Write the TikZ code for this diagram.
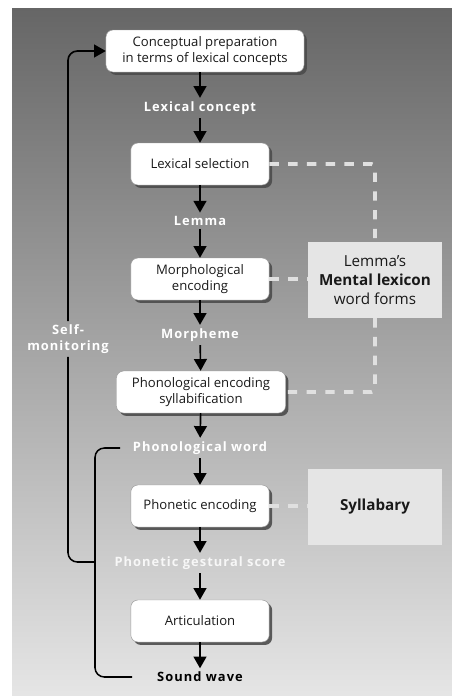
\documentclass[tikz,border=0pt]{standalone}
\usepackage{fontspec}
\setmainfont{Open Sans}
\newfontfamily\flowfont{Open Sans}[LetterSpace=8.0]
\usetikzlibrary{arrows.meta,shadows,positioning}

\begin{document}
\begin{tikzpicture}[x=0.03cm,y=-0.03cm,
  stage/.style={draw=black!40, fill=white, rounded corners=6pt, align=center,
    text=black!90, font=\fontsize{11.2}{13.5}\selectfont,
    minimum width=4.15cm, minimum height=1.26cm,
    drop shadow={shadow xshift=2.5pt, shadow yshift=-2.5pt, fill=black!70, opacity=0.9}},
  flow/.style={text=white, font=\flowfont\bfseries\fontsize{11}{13}\selectfont, inner sep=3pt},
  store/.style={fill=black!10, minimum width=4.02cm, minimum height=2.28cm,
    align=center, text=black!90, font=\fontsize{13}{16.5}\selectfont},
  arr/.style={-{Triangle[width=11pt,length=10pt]}, line width=1.4pt},
  link/.style={draw=black!12, line width=3.2pt, dash pattern=on 8pt off 8pt, rounded corners=3pt},
  fb/.style={line width=1.3pt, rounded corners=8pt}]

\useasboundingbox (0,0) rectangle (452,696);
\shade [top color=black!60, bottom color=black!10] (12,8) rectangle (452,696);

% main chain
\node [stage, minimum width=5.94cm] (concept) at (205,51) {Conceptual preparation\\ in terms of lexical concepts};
\node [flow] (lexcon) at (200,108) {Lexical concept};
\node [stage] (lexsel) at (200,164) {Lexical selection};
\node [flow] (lemma) at (200,221) {Lemma};
\node [stage] (morph) at (200,279) {Morphological\\ encoding};
\node [flow] (morpheme) at (200,335) {Morpheme};
\node [stage, minimum width=5.07cm] (phonenc) at (201,392) {Phonological encoding\\ syllabification};
\node [flow] (phonword) at (200,448) {Phonological word};
\node [stage] (phonet) at (200,506) {Phonetic encoding};
\node [flow, text=black!3] (gestural) at (200,563) {Phonetic gestural score};
\node [stage] (artic) at (200,621) {Articulation};
\node [flow, text=black] (sound) at (200,677) {Sound wave};

% stores
\node [store] (lexicon) at (375,280) {Lemma's\\ {\bfseries Mental lexicon}\\ word forms};
\node [store, font=\bfseries\fontsize{13}{16.5}\selectfont] (syllab) at (375,507) {Syllabary};

\node [flow, align=center] (selfmon) at (68,339) {Self-\\monitoring};

\draw [arr] (concept.south -| lexcon) -- (lexcon);
\foreach \a/\b in {lexcon/lexsel, lexsel/lemma, lemma/morph, morph/morpheme,
    morpheme/phonenc, phonenc/phonword, phonword/phonet, phonet/gestural,
    gestural/artic, artic/sound}
  \draw [arr] (\a) -- (\b);

\draw [link] (lexsel) -| (lexicon);
\draw [link] (lexicon) |- (phonenc);
\draw [link] (morph) -- (morph -| lexicon.west);
\draw [link] (phonet) -- (phonet -| syllab.west);

% feedback loop
\coordinate (brtop) at (120,448);
\coordinate (brbot) at (132,677);
\coordinate (brmid) at (95,562);
\draw [fb] (brtop) -- (95,448) -- (95,677) -- (brbot);
\draw [fb] (brmid) -| (selfmon.south);
\draw [fb, arr] (selfmon.north) |- (concept.west);

\end{tikzpicture}
\end{document}
